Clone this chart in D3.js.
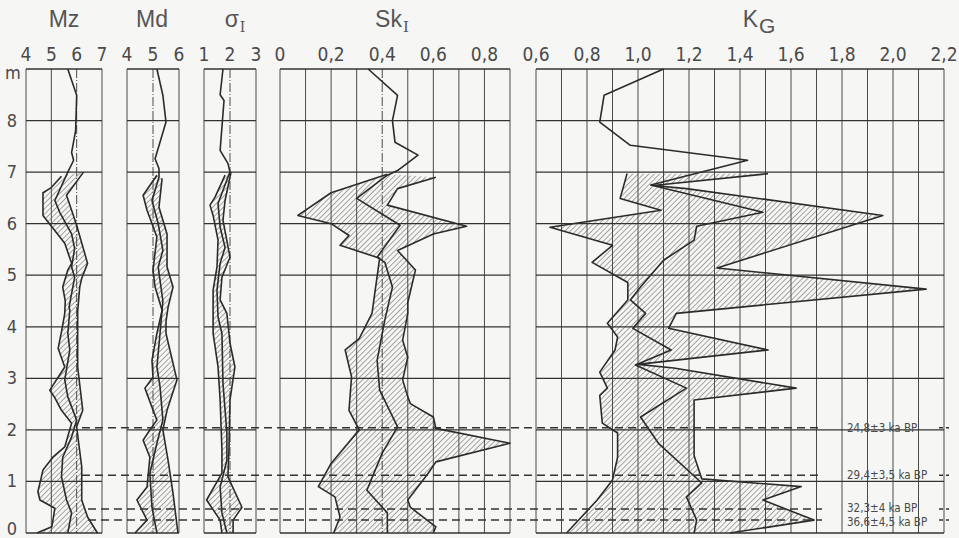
<!DOCTYPE html>
<html>
<head>
<meta charset="utf-8">
<script src="https://cdn.jsdelivr.net/npm/d3@7"></script>
<style>
  body { margin: 0; background: #f6f6f4; }
  svg { display: block; }
  text { font-family: "Liberation Sans Narrow", "DejaVu Sans Condensed", "Liberation Sans", sans-serif; fill: #4a4a4a; }
  .title { font-family: "Liberation Sans", Arial, sans-serif; }
</style>
</head>
<body>
<div id="chart"></div>
<script>
// depth axis (m)
const depthTicks = [0, 1, 2, 3, 4, 5, 6, 7, 8];

// tick labels of each panel
const mzTicks = [4, 5, 6, 7];
const mdTicks = [4, 5, 6];
const sgTicks = [1, 2, 3];
const skTicks = [0, 0.2, 0.4, 0.6, 0.8];
const kgTicks = [0.6, 0.8, 1.0, 1.2, 1.4, 1.6, 1.8, 2.0, 2.2];

// [value, depth m] ; low/high = envelope, mid = mean line
const mzMid = [[5.65,9],[6.0,8.49],[5.96,7.81],[5.8,7.38],[5.88,7.23],[5.65,7.0],[5.14,6.45],[5.33,6.22],[5.8,5.8],[5.92,5.52],[5.8,5.16],[5.92,4.96],[5.7,4.38],[5.73,4.32],[5.65,3.87],[5.73,3.55],[5.53,2.97],[5.65,2.64],[6.0,2.19],[5.8,1.86],[5.45,1.47],[5.4,1.09],[5.6,0.64],[5.8,0.39],[5.65,0]];
const mzLow = [[5.4,6.92],[5.0,6.7],[4.67,6.6],[4.67,6.16],[5.53,5.62],[5.8,5.23],[5.65,5.1],[5.45,4.77],[5.55,4.5],[5.53,4.26],[5.4,3.9],[5.27,3.58],[5.53,3.22],[4.94,2.77],[5.14,2.62],[5.4,2.38],[5.8,2.13],[5.53,1.67],[5.06,1.47],[4.67,1.22],[4.47,0.8],[4.55,0.64],[5.14,0.48],[5.02,0.12],[4.43,0]];
const mzHigh = [[6.27,7.0],[5.6,6.55],[6.0,5.97],[6.43,5.23],[6.2,4.94],[6.12,4.77],[6.04,4.3],[6.04,3.87],[6.04,3.22],[6.24,2.38],[6.0,2.06],[6.2,1.28],[6.2,0.64],[6.43,0.31],[6.82,0]];

const mdMid = [[5.15,9],[5.38,8.49],[5.5,7.97],[5.08,7.26],[5.23,7.07],[5.23,6.9],[4.96,6.45],[5.2,6.0],[5.38,5.48],[5.2,5.16],[5.38,4.5],[5.27,3.87],[5.15,3.22],[5.27,2.84],[5.38,2.19],[5.15,1.74],[4.88,1.16],[4.96,0.5],[5.15,0]];
const mdLow = [[5.15,6.94],[4.62,6.55],[4.77,6.26],[5.15,5.74],[5.0,5.1],[5.08,4.77],[5.27,4.45],[5.35,4.32],[5.15,3.87],[4.96,3.35],[5.0,3.02],[4.69,2.81],[4.96,2.44],[5.15,2.19],[4.88,2.0],[4.62,1.8],[4.88,1.47],[4.77,0.89],[4.38,0.64],[4.77,0.25],[4.31,0]];
const mdHigh = [[5.35,6.88],[5.23,6.32],[5.54,5.8],[5.54,5.16],[5.77,4.77],[5.58,4.38],[5.5,4.1],[5.5,3.87],[5.92,2.97],[5.54,2.38],[5.38,2.0],[5.58,1.41],[5.77,0.77],[5.96,0]];

const sgMid = [[1.73,9],[1.62,8.5],[1.77,8.39],[1.62,7.42],[1.92,7.17],[2.0,7.0],[1.92,6.9],[1.54,6.39],[1.62,5.93],[1.81,5.54],[1.62,5.23],[1.5,4.71],[1.54,4.19],[1.69,3.87],[1.73,2.9],[1.88,1.94],[1.88,1.41],[1.62,0.89],[1.69,0.39],[1.88,0]];
const sgLow = [[1.81,6.94],[1.42,6.51],[1.23,6.36],[1.35,6.16],[1.54,5.68],[1.5,5.16],[1.35,4.71],[1.35,4.26],[1.35,3.87],[1.54,3.22],[1.62,2.58],[1.69,1.61],[1.69,1.16],[1.1,0.64],[1.62,0.25],[1.69,0]];
const sgHigh = [[2.04,7.0],[1.81,6.45],[1.73,6.07],[2.0,5.35],[1.69,4.96],[1.62,4.52],[1.88,4.26],[2.0,3.68],[2.19,3.22],[2.0,2.58],[1.96,1.61],[1.92,1.09],[2.46,0.5],[2.12,0.25],[2.12,0]];

const skMid = [[0.345,9],[0.46,8.49],[0.44,8.0],[0.45,7.58],[0.54,7.33],[0.46,7.03],[0.42,6.94],[0.30,6.49],[0.47,5.97],[0.38,5.35],[0.41,5.25],[0.44,4.77],[0.41,4.13],[0.38,3.35],[0.39,2.77],[0.46,2.06],[0.40,1.55],[0.34,0.83],[0.42,0.39],[0.42,0]];
const skLow = [[0.42,6.96],[0.2,6.6],[0.07,6.16],[0.2,6.0],[0.27,5.77],[0.235,5.58],[0.39,5.33],[0.36,4.26],[0.31,3.77],[0.255,3.55],[0.28,3.03],[0.27,2.38],[0.31,2.0],[0.2,1.35],[0.15,0.9],[0.215,0.7],[0.235,0.31],[0.21,0]];
const skHigh = [[0.61,6.9],[0.46,6.68],[0.42,6.36],[0.73,5.95],[0.6,5.8],[0.46,5.48],[0.53,5.1],[0.50,4.47],[0.50,4.26],[0.48,3.74],[0.50,3.41],[0.48,2.97],[0.50,2.64],[0.51,2.51],[0.60,2.25],[0.61,2.03],[0.90,1.74],[0.61,1.38],[0.58,1.16],[0.50,0.64],[0.51,0.5],[0.61,0.12],[0.60,0]];

const kgMid = [[1.10,9],[0.867,8.49],[0.85,7.97],[0.97,7.52],[1.43,7.23],[1.05,6.75],[1.49,6.22],[1.23,5.95],[1.22,5.68],[1.10,5.29],[1.01,4.77],[0.97,4.52],[1.03,4.26],[0.98,3.97],[1.13,3.55],[0.99,3.26],[1.19,2.81],[1.01,2.25],[1.08,1.74],[1.25,0.97],[1.19,0.7],[1.23,0.25],[1.22,0]];
const kgLow = [[0.957,6.97],[0.93,6.49],[1.09,6.26],[0.655,5.93],[0.9,5.58],[0.82,5.25],[0.96,4.86],[0.96,4.52],[0.88,4.07],[0.92,3.8],[0.91,3.55],[0.85,3.12],[0.88,2.81],[0.85,2.67],[0.86,2.13],[0.92,1.94],[0.92,1.47],[0.90,1.03],[0.84,0.64],[0.72,0]];
const kgHigh = [[1.51,6.97],[1.06,6.74],[1.19,6.68],[1.96,6.16],[1.31,5.14],[2.13,4.73],[1.15,4.26],[1.12,3.97],[1.51,3.55],[1.0,3.27],[1.14,3.2],[1.62,2.81],[1.22,2.58],[1.22,1.5],[1.25,1.05],[1.64,0.9],[1.49,0.64],[1.69,0.25],[1.36,0]];

// dated horizons
const ageDepths = [2.04, 1.12, 0.465, 0.25];
const ageLabels = ["24,8±3 ka BP", "29,4±3,5 ka BP", "32,3±4 ka BP", "36,6±4,5 ka BP"];

const width = 959, height = 538;

const svg = d3.select("#chart").append("svg")
    .attr("width", width)
    .attr("height", height);

svg.append("rect").attr("width", width).attr("height", height).attr("fill", "#f6f6f4");

const defs = svg.append("defs");
defs.append("pattern")
    .attr("id", "hatch")
    .attr("patternUnits", "userSpaceOnUse")
    .attr("width", 3.8)
    .attr("height", 3.8)
    .attr("patternTransform", "rotate(45)")
  .append("line")
    .attr("x1", 0).attr("y1", 0)
    .attr("x2", 0).attr("y2", 3.8)
    .attr("stroke", "#505050")
    .attr("stroke-width", 1);

const y = d3.scaleLinear().domain([0, 9]).range([533, 69]);

const fmt = d => d3.format(".1f")(d).replace(".", ",");

const panels = [
    {name: "Mz", sub: "", domain: [4, 7], range: [26, 102], step: 1, dashed: [6], ticks: mzTicks, f: d => d, mid: mzMid, low: mzLow, high: mzHigh, tx: 64},
    {name: "Md", sub: "", domain: [4, 6], range: [127, 179], step: 1, dashed: [5], ticks: mdTicks, f: d => d, mid: mdMid, low: mdLow, high: mdHigh, tx: 152},
    {name: "σ", sub: "I", subSize: 14, subSerif: true, subDy: 5, domain: [1, 3], range: [204, 256], step: 1, dashed: [2], ticks: sgTicks, f: d => d, mid: sgMid, low: sgLow, high: sgHigh, tx: 235},
    {name: "Sk", sub: "I", subSize: 15, subSerif: true, subDy: 5, domain: [0, 0.9], range: [280, 510], step: 0.1, dashed: [0.4], ticks: skTicks, f: d => d === 0 ? "0" : fmt(d), mid: skMid, low: skLow, high: skHigh, tx: 392},
    {name: "K", sub: "G", subSize: 21, subSerif: false, subDy: 6, domain: [0.6, 2.2], range: [536, 944], step: 0.1, dashed: [], ticks: kgTicks, f: fmt, mid: kgMid, low: kgLow, high: kgHigh, tx: 759}
];

const line = x => d3.line().x(d => x(d[0])).y(d => y(d[1]));

panels.forEach(function(p) {
    const x = d3.scaleLinear().domain(p.domain).range(p.range);
    const g = svg.append("g");

    // hatched envelope
    const poly = p.low.concat(p.high.slice().reverse());
    g.append("path")
        .attr("d", line(x)(poly) + "Z")
        .attr("fill", "url(#hatch)")
        .attr("stroke", "none");

    // vertical grid
    const n = Math.round((p.domain[1] - p.domain[0]) / p.step);
    const vals = d3.range(n + 1).map(i => +(p.domain[0] + i * p.step).toFixed(2));
    g.selectAll(".v").data(vals).enter().append("line")
        .attr("x1", d => x(d)).attr("x2", d => x(d))
        .attr("y1", y(9)).attr("y2", y(0))
        .attr("stroke", "#4a4a4a")
        .attr("stroke-width", 1)
        .attr("stroke-dasharray", d => p.dashed.includes(d) ? "9,2,1,2" : null);

    // horizontal grid
    g.selectAll(".h").data(d3.range(0, 10)).enter().append("line")
        .attr("x1", p.range[0]).attr("x2", p.range[1])
        .attr("y1", d => y(d)).attr("y2", d => y(d))
        .attr("stroke", "#333")
        .attr("stroke-width", d => d === 9 || d === 0 ? 1.6 : 1.3);

    // envelope + mean lines
    [p.low, p.high, p.mid].forEach(function(s) {
        g.append("path")
            .attr("d", line(x)(s))
            .attr("fill", "none")
            .attr("stroke", "#2b2b2b")
            .attr("stroke-width", 1.6)
            .attr("stroke-linejoin", "round");
    });

    // tick labels
    g.selectAll(".t").data(p.ticks).enter().append("text")
        .attr("x", d => x(d))
        .attr("y", 61)
        .attr("text-anchor", "middle")
        .style("font-size", "19px")
        .text(p.f);

    // title
    const t = g.append("text")
        .attr("class", "title")
        .attr("x", p.tx)
        .attr("y", 27)
        .attr("text-anchor", "middle")
        .style("font-size", "23px")
        .style("fill", "#555");
    t.append("tspan").text(p.name);
    if (p.sub) {
        t.append("tspan")
            .attr("dy", p.subDy)
            .attr("dx", 1)
            .style("font-size", p.subSize + "px")
            .style("font-family", p.subSerif ? "'DejaVu Serif', 'Liberation Serif', serif" : null)
            .text(p.sub);
    }
});

// depth labels
svg.selectAll(".yl").data(depthTicks).enter().append("text")
    .attr("x", 12)
    .attr("y", d => d === 0 ? 535 : y(d) + 6)
    .attr("text-anchor", "middle")
    .style("font-size", "18px")
    .text(d => d);
svg.append("text")
    .attr("x", 13).attr("y", 79)
    .attr("text-anchor", "middle")
    .style("font-size", "18px")
    .text("m");

// dated horizons
ageDepths.forEach(function(d, i) {
    const x0 = i < 2 ? 82 : 88;
    svg.append("line")
        .attr("x1", x0).attr("x2", 822)
        .attr("y1", y(d)).attr("y2", y(d))
        .attr("stroke", "#333")
        .attr("stroke-width", 1.5)
        .attr("stroke-dasharray", "8,5");
    svg.append("line")
        .attr("x1", 939).attr("x2", 949)
        .attr("y1", y(d)).attr("y2", y(d))
        .attr("stroke", "#333")
        .attr("stroke-width", 1.5)
        .attr("stroke-dasharray", "4,3");
    svg.append("text")
        .attr("x", 847)
        .attr("y", y(d) + (i === 2 ? 2.5 : i === 3 ? 5.5 : 4))
        .style("font-size", "11.5px")
        .text(ageLabels[i]);
});
</script>
</body>
</html>
